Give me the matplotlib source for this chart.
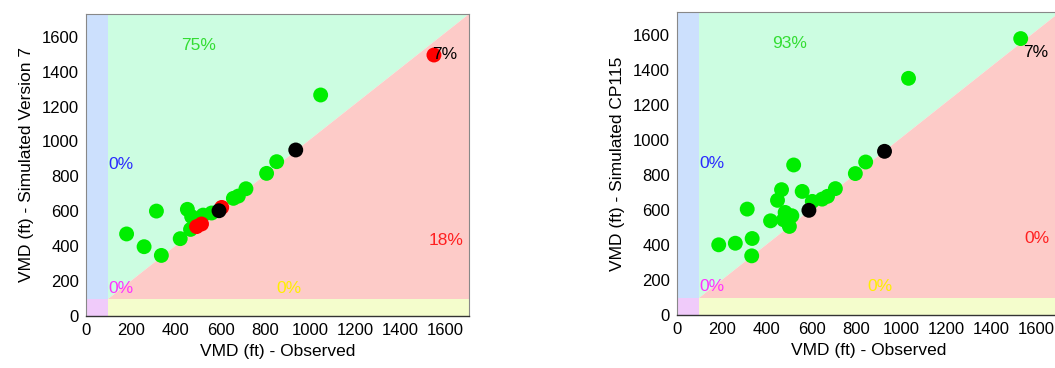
import matplotlib
matplotlib.use('Agg')
import matplotlib.pyplot as plt
from matplotlib.patches import Polygon, Rectangle

plt.rcParams['font.family'] = ['Liberation Sans', 'DejaVu Sans']

XLIM = 1707
YLIM = 1730
THRESH = 100
TICKS = [0, 200, 400, 600, 800, 1000, 1200, 1400, 1600]

# Simulated Version 7 vs observed
v7_green_x = [1046, 181, 259, 336, 314, 420, 452, 471, 466, 522, 560, 657, 679, 713, 805, 850]
v7_green_y = [1266, 470, 397, 347, 601, 443, 611, 569, 496, 578, 590, 674, 687, 729, 817, 884]
v7_red_x = [1551, 493, 515, 605]
v7_red_y = [1495, 512, 527, 622]
v7_black_x = [593, 935]
v7_black_y = [603, 951]
v7_pcts = ['75%', '0%', '0%', '0%', '18%', '7%']

# Simulated CP115 vs observed
cp_green_x = [1532, 1032, 186, 260, 335, 333, 313, 417, 448, 466, 482, 501, 512, 475, 520, 558,
              603, 647, 671, 706, 795, 841]
cp_green_y = [1579, 1352, 401, 410, 437, 338, 605, 538, 655, 716, 586, 506, 567, 544, 857, 706,
              649, 662, 678, 722, 808, 874]
cp_red_x = []
cp_red_y = []
cp_black_x = [588, 925]
cp_black_y = [598, 935]
cp_pcts = ['93%', '0%', '0%', '0%', '0%', '7%']

# label positions: over, left-blue, corner, low-yellow, under, top-right
PCT_POS = [(500, 1550, 'center', '#33dd33'),
           (100, 865, 'left', '#2a2aff'),
           (100, 160, 'left', '#ff33ff'),
           (905, 160, 'center', '#ffee00'),
           (1605, 435, 'center', '#ff2020'),
           (1600, 1500, 'center', 'black')]


def draw_panel(ax, gx, gy, rx, ry, bx, by, pcts, ylabel):
    ax.add_patch(Polygon([(THRESH, THRESH), (THRESH, YLIM), (XLIM, YLIM)], closed=True,
                         facecolor='#ccfde1', edgecolor='none', zorder=0))
    ax.add_patch(Polygon([(THRESH, THRESH), (XLIM, THRESH), (XLIM, YLIM)], closed=True,
                         facecolor='#fdcbc8', edgecolor='none', zorder=0))
    ax.add_patch(Rectangle((0, THRESH), THRESH, YLIM - THRESH, facecolor='#cce0fd',
                           edgecolor='none', zorder=0))
    ax.add_patch(Rectangle((THRESH, 0), XLIM - THRESH, THRESH, facecolor='#f4fdcc',
                           edgecolor='none', zorder=0))
    ax.add_patch(Rectangle((0, 0), THRESH, THRESH, facecolor='#f0cbfa',
                           edgecolor='none', zorder=0))

    ax.scatter(gx, gy, s=115, color='#00ee00', edgecolors='none', zorder=3)
    if rx:
        ax.scatter(rx, ry, s=115, color='#ff0000', edgecolors='none', zorder=4)
    ax.scatter(bx, by, s=115, color='black', edgecolors='none', zorder=5)

    for txt, (x, y, ha, c) in zip(pcts, PCT_POS):
        ax.text(x, y, txt, color=c, ha=ha, va='center', fontsize=12.5, zorder=6)

    ax.set_xlim(0, XLIM)
    ax.set_ylim(0, YLIM)
    ax.set_xticks(TICKS)
    ax.set_yticks(TICKS)
    ax.tick_params(length=0, labelsize=12, pad=5)
    ax.set_xlabel('VMD (ft) - Observed', fontsize=12.5, labelpad=4)
    ax.set_ylabel(ylabel, fontsize=12.5, labelpad=6)
    for side in ['top', 'right', 'left']:
        ax.spines[side].set_color('#888888')
        ax.spines[side].set_linewidth(0.8)
    ax.spines['bottom'].set_color('#333333')
    ax.spines['bottom'].set_linewidth(1.0)


fig = plt.figure(figsize=(10.55, 3.68), dpi=100)
ax1 = fig.add_axes([0.0815, 0.1413, 0.363, 0.8207])
ax2 = fig.add_axes([0.6417, 0.1440, 0.363, 0.8230])

draw_panel(ax1, v7_green_x, v7_green_y, v7_red_x, v7_red_y, v7_black_x, v7_black_y,
           v7_pcts, 'VMD (ft) - Simulated Version 7')
draw_panel(ax2, cp_green_x, cp_green_y, cp_red_x, cp_red_y, cp_black_x, cp_black_y,
           cp_pcts, 'VMD (ft) - Simulated CP115')

fig.savefig('out.png', dpi=100)
